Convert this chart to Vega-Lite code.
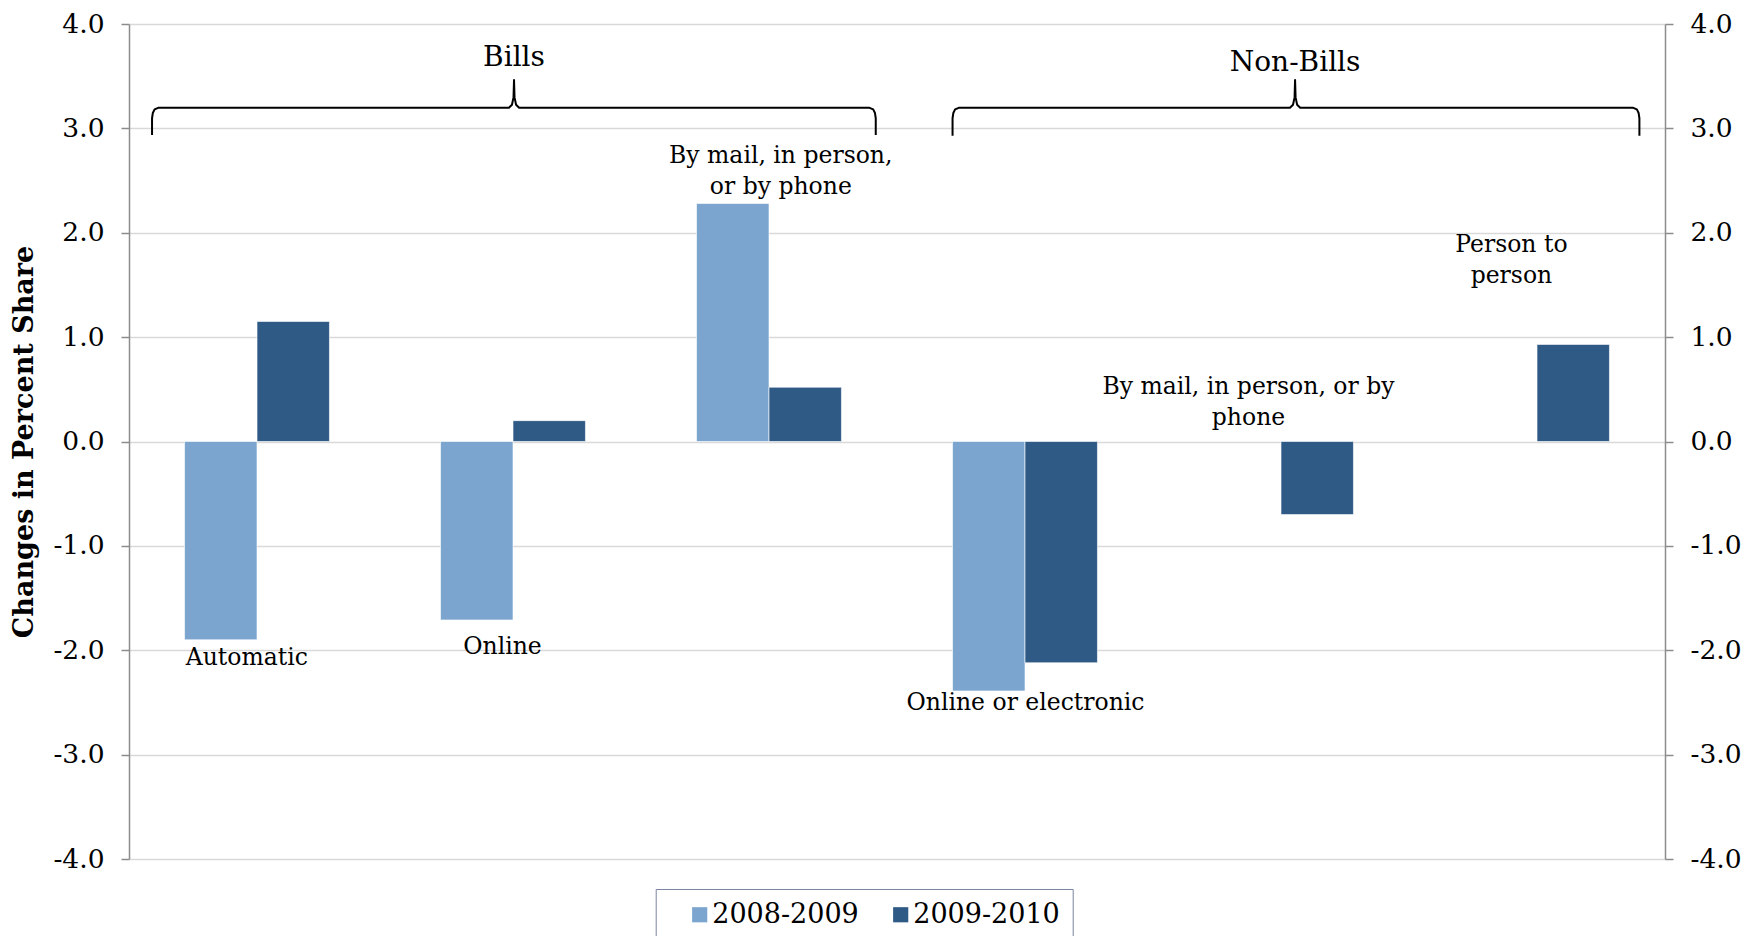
{
  "$schema": "https://vega.github.io/schema/vega-lite/v6.json",
  "autosize": {"type": "none"},
  "padding": {"left": 129, "top": 24, "right": 82, "bottom": 77},
  "width": 1536,
  "height": 835,
  "background": "white",
  "config": {
    "view": {"stroke": null},
    "font": "DejaVu Serif",
    "text": {"font": "DejaVu Serif", "color": "black"}
  },
  "datasets": {
    "changes": [
      {"category": "Bills: Automatic", "period": "2008-2009", "change": -1.9},
      {"category": "Bills: Automatic", "period": "2009-2010", "change": 1.15},
      {"category": "Bills: Online", "period": "2008-2009", "change": -1.71},
      {"category": "Bills: Online", "period": "2009-2010", "change": 0.2},
      {"category": "Bills: By mail, in person, or by phone", "period": "2008-2009", "change": 2.28},
      {"category": "Bills: By mail, in person, or by phone", "period": "2009-2010", "change": 0.52},
      {"category": "Non-Bills: Online or electronic", "period": "2008-2009", "change": -2.39},
      {"category": "Non-Bills: Online or electronic", "period": "2009-2010", "change": -2.12},
      {"category": "Non-Bills: By mail, in person, or by phone", "period": "2009-2010", "change": -0.7},
      {"category": "Non-Bills: Person to person", "period": "2009-2010", "change": 0.93}
    ],
    "labels": [
      {"text": "Automatic", "pos": 0.46, "at": -2.075},
      {"text": "Online", "pos": 1.459, "at": -1.97},
      {"text": "By mail, in person,\nor by phone", "pos": 2.546, "at": 2.735},
      {"text": "Online or electronic", "pos": 3.502, "at": -2.51},
      {"text": "By mail, in person, or by\nphone", "pos": 4.373, "at": 0.525},
      {"text": "Person to\nperson", "pos": 5.4, "at": 1.882}
    ],
    "groups": [
      {"text": "Bills", "pos": 1.504, "at": 3.67},
      {"text": "Non-Bills", "pos": 4.555, "at": 3.625}
    ],
    "braces": [
      {"group": "Bills", "seq": 1, "pos": 0.09, "at": 2.936},
      {"group": "Bills", "seq": 2, "pos": 0.09, "at": 3.097},
      {"group": "Bills", "seq": 3, "pos": 0.093, "at": 3.147},
      {"group": "Bills", "seq": 4, "pos": 0.1, "at": 3.182},
      {"group": "Bills", "seq": 5, "pos": 0.114, "at": 3.197},
      {"group": "Bills", "seq": 6, "pos": 1.484, "at": 3.197},
      {"group": "Bills", "seq": 7, "pos": 1.496, "at": 3.227},
      {"group": "Bills", "seq": 8, "pos": 1.502, "at": 3.297},
      {"group": "Bills", "seq": 9, "pos": 1.504, "at": 3.463},
      {"group": "Bills", "seq": 10, "pos": 1.506, "at": 3.297},
      {"group": "Bills", "seq": 11, "pos": 1.512, "at": 3.227},
      {"group": "Bills", "seq": 12, "pos": 1.524, "at": 3.197},
      {"group": "Bills", "seq": 13, "pos": 2.893, "at": 3.197},
      {"group": "Bills", "seq": 14, "pos": 2.907, "at": 3.182},
      {"group": "Bills", "seq": 15, "pos": 2.914, "at": 3.147},
      {"group": "Bills", "seq": 16, "pos": 2.917, "at": 3.097},
      {"group": "Bills", "seq": 17, "pos": 2.917, "at": 2.936},
      {"group": "Non-Bills", "seq": 1, "pos": 3.217, "at": 2.93},
      {"group": "Non-Bills", "seq": 2, "pos": 3.217, "at": 3.097},
      {"group": "Non-Bills", "seq": 3, "pos": 3.22, "at": 3.147},
      {"group": "Non-Bills", "seq": 4, "pos": 3.227, "at": 3.182},
      {"group": "Non-Bills", "seq": 5, "pos": 3.241, "at": 3.197},
      {"group": "Non-Bills", "seq": 6, "pos": 4.535, "at": 3.197},
      {"group": "Non-Bills", "seq": 7, "pos": 4.547, "at": 3.227},
      {"group": "Non-Bills", "seq": 8, "pos": 4.553, "at": 3.297},
      {"group": "Non-Bills", "seq": 9, "pos": 4.555, "at": 3.463},
      {"group": "Non-Bills", "seq": 10, "pos": 4.557, "at": 3.297},
      {"group": "Non-Bills", "seq": 11, "pos": 4.563, "at": 3.227},
      {"group": "Non-Bills", "seq": 12, "pos": 4.575, "at": 3.197},
      {"group": "Non-Bills", "seq": 13, "pos": 5.876, "at": 3.197},
      {"group": "Non-Bills", "seq": 14, "pos": 5.89, "at": 3.182},
      {"group": "Non-Bills", "seq": 15, "pos": 5.897, "at": 3.147},
      {"group": "Non-Bills", "seq": 16, "pos": 5.9, "at": 3.097},
      {"group": "Non-Bills", "seq": 17, "pos": 5.9, "at": 2.93}
    ]
  },
  "layer": [
    {
      "data": {"name": "changes"},
      "mark": {"type": "bar", "stroke": "white", "strokeWidth": 0.6},
      "encoding": {
        "x": {
          "field": "category",
          "type": "nominal",
          "sort": [
            "Bills: Automatic",
            "Bills: Online",
            "Bills: By mail, in person, or by phone",
            "Non-Bills: Online or electronic",
            "Non-Bills: By mail, in person, or by phone",
            "Non-Bills: Person to person"
          ],
          "scale": {"paddingInner": 0.434, "paddingOuter": 0.217},
          "axis": null
        },
        "xOffset": {
          "field": "period",
          "type": "nominal",
          "scale": {"paddingInner": 0, "paddingOuter": 0}
        },
        "y": {
          "field": "change",
          "type": "quantitative",
          "scale": {"domain": [-4, 4], "nice": false, "zero": false},
          "axis": {
            "orient": "left",
            "values": [-4, -3, -2, -1, 0, 1, 2, 3, 4],
            "format": ".1f",
            "labelExpr": "replace(datum.label, '\u2212', '-')",
            "title": "Changes in Percent  Share",
            "titleFont": "DejaVu Serif",
            "titleFontWeight": "bold",
            "titleFontSize": 27,
            "titleColor": "black",
            "titleAngle": 270,
            "titleAlign": "center",
            "titleBaseline": "middle",
            "titleX": -104.5,
            "titleY": 417.5,
            "labelFont": "DejaVu Serif",
            "labelFontSize": 26.5,
            "labelColor": "black",
            "labelPadding": 17,
            "tickSize": 8,
            "tickColor": "#8c8c8c",
            "tickWidth": 1.5,
            "domainColor": "#8c8c8c",
            "domainWidth": 1.5,
            "grid": true,
            "gridColor": "#d9d9d9",
            "gridWidth": 1.5
          }
        },
        "color": {
          "field": "period",
          "type": "nominal",
          "scale": {"domain": ["2008-2009", "2009-2010"], "range": ["#7ba5cf", "#305a86"]},
          "legend": {
            "orient": "none",
            "legendX": 526.7,
            "legendY": 865,
            "direction": "horizontal",
            "title": " ",
            "titleOrient": "left",
            "titleFontSize": 8,
            "titlePadding": 18.5,
            "padding": 12,
            "strokeColor": "#7b84a0",
            "fillColor": "white",
            "symbolType": "square",
            "symbolSize": 230,
            "symbolStrokeWidth": 0,
            "labelFont": "DejaVu Serif",
            "labelFontSize": 27,
            "labelColor": "black",
            "labelOffset": -1,
            "columnPadding": 28
          }
        }
      }
    },
    {
      "data": {"name": "braces"},
      "mark": {"type": "line", "color": "black", "strokeWidth": 2, "strokeJoin": "round", "clip": false},
      "encoding": {
        "x": {"field": "pos", "type": "quantitative", "scale": {"domain": [0, 6], "nice": false, "zero": false}, "axis": null},
        "y": {
          "field": "at",
          "type": "quantitative",
          "scale": {"domain": [-4, 4], "nice": false, "zero": false},
          "axis": {
            "orient": "right",
            "values": [-4, -3, -2, -1, 0, 1, 2, 3, 4],
            "format": ".1f",
            "labelExpr": "replace(datum.label, '\u2212', '-')",
            "title": null,
            "grid": false,
            "labelFont": "DejaVu Serif",
            "labelFontSize": 26.5,
            "labelColor": "black",
            "labelPadding": 17,
            "tickSize": 8,
            "tickColor": "#8c8c8c",
            "tickWidth": 1.5,
            "domainColor": "#8c8c8c",
            "domainWidth": 1.5
          }
        },
        "detail": {"field": "group", "type": "nominal"},
        "order": {"field": "seq", "type": "quantitative"}
      }
    },
    {
      "data": {"name": "labels"},
      "mark": {"type": "text", "fontSize": 23.5, "lineBreak": "\n", "lineHeight": 31, "align": "center", "baseline": "middle"},
      "encoding": {
        "x": {"field": "pos", "type": "quantitative", "scale": {"domain": [0, 6], "nice": false, "zero": false}, "axis": null},
        "y": {"field": "at", "type": "quantitative", "scale": {"domain": [-4, 4], "nice": false, "zero": false}, "axis": null},
        "text": {"field": "text", "type": "nominal"}
      }
    },
    {
      "data": {"name": "groups"},
      "mark": {"type": "text", "fontSize": 28, "align": "center", "baseline": "middle"},
      "encoding": {
        "x": {"field": "pos", "type": "quantitative", "scale": {"domain": [0, 6], "nice": false, "zero": false}, "axis": null},
        "y": {"field": "at", "type": "quantitative", "scale": {"domain": [-4, 4], "nice": false, "zero": false}, "axis": null},
        "text": {"field": "text", "type": "nominal"}
      }
    }
  ],
  "resolve": {"scale": {"x": "independent"}, "axis": {"y": "independent"}}
}
